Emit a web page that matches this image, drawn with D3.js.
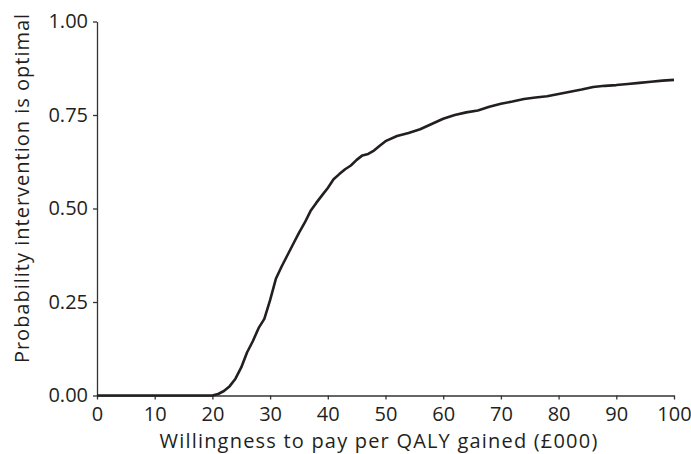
<!DOCTYPE html>
<html>
<head>
<meta charset="utf-8">
<script src="https://cdn.jsdelivr.net/npm/d3@7"></script>
<style>
    body { margin: 0; background: #fff; }
    .axis text { font-family: "Open Sans", sans-serif; font-size: 20px; fill: #231f20; }
    .axis path, .axis line { stroke: #333; stroke-width: 1.3; }
    .title { font-family: "Open Sans", sans-serif; font-size: 20px; fill: #231f20; }
</style>
</head>
<body>
<div class="ceac"></div>
<script>
// Willingness to pay (£000) and probability the intervention is optimal
const wtp = [0, 5, 10, 15, 20, 21, 22, 23, 24, 25, 26, 27, 28, 29, 30, 31, 32, 33, 34, 35,
    36, 37, 38, 39, 40, 41, 42, 43, 44, 45, 46, 47, 48, 49, 50, 52, 54, 56, 58, 60,
    62, 64, 66, 68, 70, 72, 74, 76, 78, 80, 82, 84, 86, 88, 90, 92, 94, 96, 98, 100];
const prob = [0, 0, 0, 0, 0, 0.004, 0.012, 0.025, 0.045, 0.075, 0.115, 0.145, 0.18, 0.205, 0.255,
    0.312, 0.345, 0.375, 0.405, 0.435, 0.462, 0.493, 0.515, 0.535, 0.555, 0.578, 0.592, 0.605,
    0.615, 0.63, 0.642, 0.646, 0.655, 0.668, 0.68, 0.694, 0.702, 0.712, 0.726, 0.74, 0.75,
    0.757, 0.762, 0.772, 0.78, 0.786, 0.793, 0.797, 0.8, 0.806, 0.812, 0.818, 0.825, 0.828,
    0.83, 0.833, 0.836, 0.839, 0.842, 0.844];
const xTicks = [0, 10, 20, 30, 40, 50, 60, 70, 80, 90, 100];
const yTicks = [0, 0.25, 0.5, 0.75, 1];

let margin = { top: 21.5, right: 17, bottom: 58.5, left: 97 };
let width = 691 - margin.left - margin.right;
let height = 454 - margin.top - margin.bottom;

const svg = d3.select(".ceac")
    .append("svg")
    .attr("width", 691)
    .attr("height", 454)
    .append("g")
    .attr("transform", `translate(${margin.left},${margin.top})`);

const x = d3.scaleLinear().domain([0, 100]).range([0, width]);
const y = d3.scaleLinear().domain([0, 1]).range([height, 0]);

svg.append("g")
    .attr("class", "axis")
    .attr("transform", `translate(0,${height})`)
    .call(d3.axisBottom(x).tickValues(xTicks).tickSize(4).tickSizeOuter(0).tickPadding(7));

svg.append("g")
    .attr("class", "axis")
    .call(d3.axisLeft(y).tickValues(yTicks).tickSize(4).tickSizeOuter(0).tickPadding(5)
        .tickFormat(d3.format(".2f")));

const data = wtp.map((d, i) => ({ x: d, y: prob[i] }));

svg.append("path")
    .datum(data)
    .attr("fill", "none")
    .attr("stroke", "#231f20")
    .attr("stroke-width", 2.6)
    .attr("stroke-linejoin", "round")
    .attr("d", d3.line().x((d) => x(d.x)).y((d) => y(d.y)));

svg.append("text")
    .attr("class", "title")
    .attr("x", 379 - margin.left)
    .attr("y", 448 - margin.top)
    .attr("text-anchor", "middle")
    .attr("letter-spacing", "1.2px")
    .text("Willingness to pay per QALY gained (£000)");

svg.append("text")
    .attr("class", "title")
    .attr("transform", `translate(${29 - margin.left},${188 - margin.top}) rotate(-90)`)
    .attr("text-anchor", "middle")
    .attr("letter-spacing", "1px")
    .text("Probability intervention is optimal");
</script>
</body>
</html>
